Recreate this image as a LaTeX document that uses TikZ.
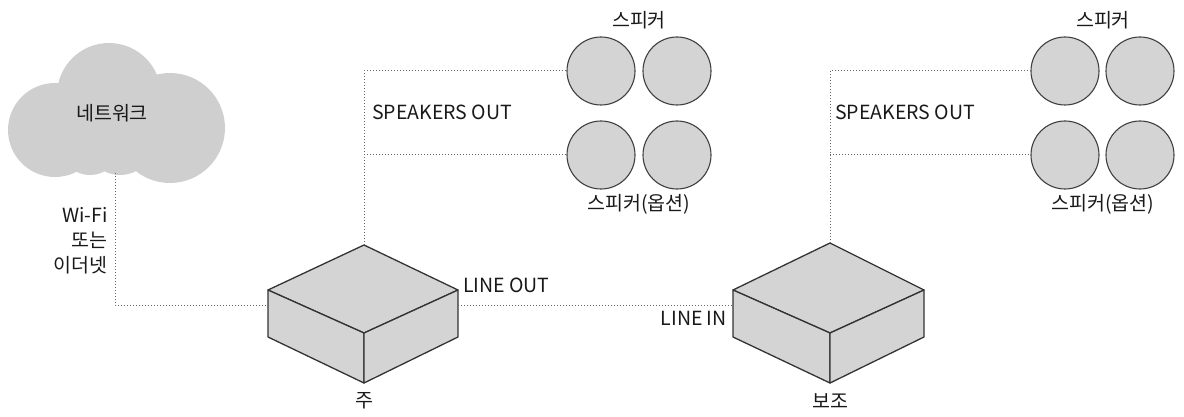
\documentclass[tikz,border=0pt]{standalone}
\usepackage{fontspec}
\setmainfont{Noto Sans CJK KR}
\begin{document}
\begin{tikzpicture}[x=1pt,y=-1pt,
  lbl/.style={font=\fontsize{19.5}{22}\selectfont,text=black!90,inner sep=0pt},
  spk/.style={circle,draw=black!75,line width=1.1pt,fill=black!17,minimum size=68pt,inner sep=0pt},
  wire/.style={draw=black!60,line width=1pt,dotted},
  face/.style={draw=black!80,line width=1.3pt,line join=round,fill=black!17}]
\useasboundingbox (0,0) rectangle (1184,417);
% cloud
\fill[black!19] (109,95) circle (52) (55,130) circle (47) (170,128) circle (55) (120,140) circle (35) (90,145) circle (30);
\node[lbl] (net) at (112,113) {네트워크};
\coordinate (cb) at (115,173);
% main box
\coordinate (mt) at (364,245);
\coordinate (ml) at (268,290);
\coordinate (mr) at (458,290);
\coordinate (mf) at (364,333);
\coordinate (mlb) at (268,337);
\coordinate (mfb) at (364,383);
\coordinate (mrb) at (458,337);
\filldraw[face] (mt)--(mr)--(mf)--(ml)--cycle;
\filldraw[face] (ml)--(mf)--(mfb)--(mlb)--cycle;
\filldraw[face] (mf)--(mr)--(mrb)--(mfb)--cycle;
% secondary box
\coordinate (st) at (830,243);
\coordinate (sl) at (733,290);
\coordinate (sr) at (924,290);
\coordinate (sf) at (830,333);
\coordinate (slb) at (733,337);
\coordinate (sfb) at (830,383);
\coordinate (srb) at (924,337);
\filldraw[face] (st)--(sr)--(sf)--(sl)--cycle;
\filldraw[face] (sl)--(sf)--(sfb)--(slb)--cycle;
\filldraw[face] (sf)--(sr)--(srb)--(sfb)--cycle;
% speakers
\node[spk] (a1) at (601,71) {};
\node[spk] (a2) at (677,71) {};
\node[spk] (a3) at (601,155) {};
\node[spk] (a4) at (677,155) {};
\node[spk] (b1) at (1065,71) {};
\node[spk] (b2) at (1140,71) {};
\node[spk] (b3) at (1065,155) {};
\node[spk] (b4) at (1140,155) {};
% wires
\draw[wire] (cb) |- (268,305);
\draw[wire] (458,305) -- (733,305);
\draw[wire] (mt) |- (a1.west);
\draw[wire] (364,155) -- (a3.west);
\draw[wire] (st) |- (b1.west);
\draw[wire] (830,155) -- (b3.west);
% labels
\node[lbl] (t1) at (639,20) {스피커};
\node[lbl] (t2) at (639,204) {스피커(옵션)};
\node[lbl] (t3) at (1103,20) {스피커};
\node[lbl] (t4) at (1103,204) {스피커(옵션)};
\node[lbl,anchor=west] (so1) at (372,112) {SPEAKERS OUT};
\node[lbl,anchor=west] (so2) at (835,112) {SPEAKERS OUT};
\node[lbl,anchor=west] (lo) at (463,285) {LINE OUT};
\node[lbl,anchor=east] (li) at (727,318) {LINE IN};
\node[lbl] (m) at (364,401) {주};
\node[lbl] (s) at (830,401) {보조};
\node[lbl,anchor=east] (w1) at (108,215) {Wi-Fi};
\node[lbl,anchor=east] (w2) at (108,240) {또는};
\node[lbl,anchor=east] (w3) at (108,265) {이더넷};
\end{tikzpicture}
\end{document}
